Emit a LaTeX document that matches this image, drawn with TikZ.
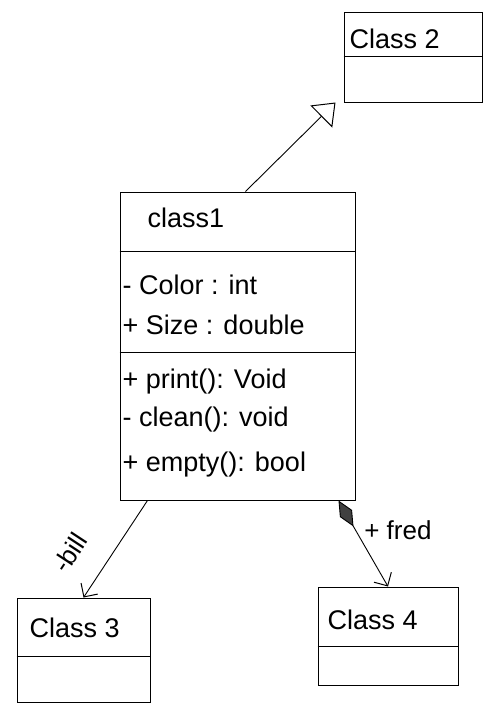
\documentclass[tikz,border=0pt]{standalone}
\usepackage{fontspec}
\setmainfont{Liberation Sans}
\usetikzlibrary{arrows.meta,calc}

\tikzset{
  classbox/.style={draw, line width=1pt, inner sep=0pt},
  txt/.style={anchor=west, inner sep=0pt, font=\fontsize{27}{30}\selectfont},
  lbl/.style={inner sep=0pt, font=\fontsize{26}{29}\selectfont},
  link/.style={line width=0.9pt}
}

\begin{document}
\begin{tikzpicture}[x=1pt,y=-1pt]

% ---------- Parameter (Rahmen wie Vorlage, 1pt = 1px) ----------
\def\W{498}
\def\H{715}
\useasboundingbox (0,0) rectangle (\W,\H);

% ===================
% Klassen-Kaesten
% ===================
\node[classbox, minimum width=138pt, minimum height=90pt]  (c2) at (413,57)    {};
\node[classbox, minimum width=235pt, minimum height=308pt] (c1) at (237.5,346) {};
\node[classbox, minimum width=133pt, minimum height=104pt] (c3) at (83.5,650)  {};
\node[classbox, minimum width=140pt, minimum height=98pt]  (c4) at (388,636)   {};

% Trennlinien
\draw[line width=1pt] ([yshift=-45pt]c2.north west) -- ([yshift=-45pt]c2.north east);
\draw[line width=1pt] ([yshift=-60pt]c1.north west) -- ([yshift=-60pt]c1.north east);
\draw[line width=1pt] ([yshift=-161pt]c1.north west) -- ([yshift=-161pt]c1.north east);
\draw[line width=1pt] ([yshift=-59pt]c3.north west) -- ([yshift=-59pt]c3.north east);
\draw[line width=1pt] ([yshift=-60pt]c4.north west) -- ([yshift=-60pt]c4.north east);

% ---------- Texte ----------
\node[txt] (c2name) at ([xshift=6pt,yshift=-27pt]c2.north west) {Class 2};
\node[txt] (c1name) at ([xshift=28pt,yshift=-26pt]c1.north west) {class1};

\node[txt] (attcol)  at ([xshift=3pt,yshift=-93pt]c1.north west)  {- Color : int};
\node[txt] (attsize) at ([xshift=3pt,yshift=-133pt]c1.north west) {+ Size : double};

\node[txt] (mprint) at ([xshift=3pt,yshift=-190pt]c1.north west) {+ print(): Void};
\node[txt] (mclean) at ([xshift=3pt,yshift=-228pt]c1.north west) {- clean(): void};
\node[txt] (mempty) at ([xshift=3pt,yshift=-273pt]c1.north west) {+ empty(): bool};

\node[txt] (c3name) at ([xshift=13pt,yshift=-30pt]c3.north west) {Class 3};
\node[txt] (c4name) at ([xshift=10pt,yshift=-33pt]c4.north west) {Class 4};

% ===================
% Beziehungen
% ===================
% Vererbung class1 -> Class 2
\coordinate (gsrc) at ([xshift=8pt]c1.north);
\coordinate (gdst) at ([xshift=-8pt]c2.south west);
\draw[link, -{Triangle[open,length=20pt,width=31pt,line width=1pt]}] (gsrc) -- (gdst);

% Assoziation -bill
\coordinate (bsrc) at ([xshift=28pt]c1.south west);
\draw[link, -{Straight Barb[length=10pt,width=20pt,line width=1pt]}] (bsrc) -- (c3.north)
  node[lbl, pos=0.74, sloped, above=26pt] (lbill) {-bill};

% Komposition +fred
\coordinate (fsrc) at ([xshift=-17pt]c1.south east);
\draw[link, {Diamond[length=30pt,width=14pt,fill=black!75]}-{Straight Barb[length=10pt,width=20pt,line width=1pt]}]
  (fsrc) -- (c4.north)
  node[lbl, pos=0.35, anchor=west, xshift=8pt] (lfred) {+ fred};

\end{tikzpicture}
\end{document}
